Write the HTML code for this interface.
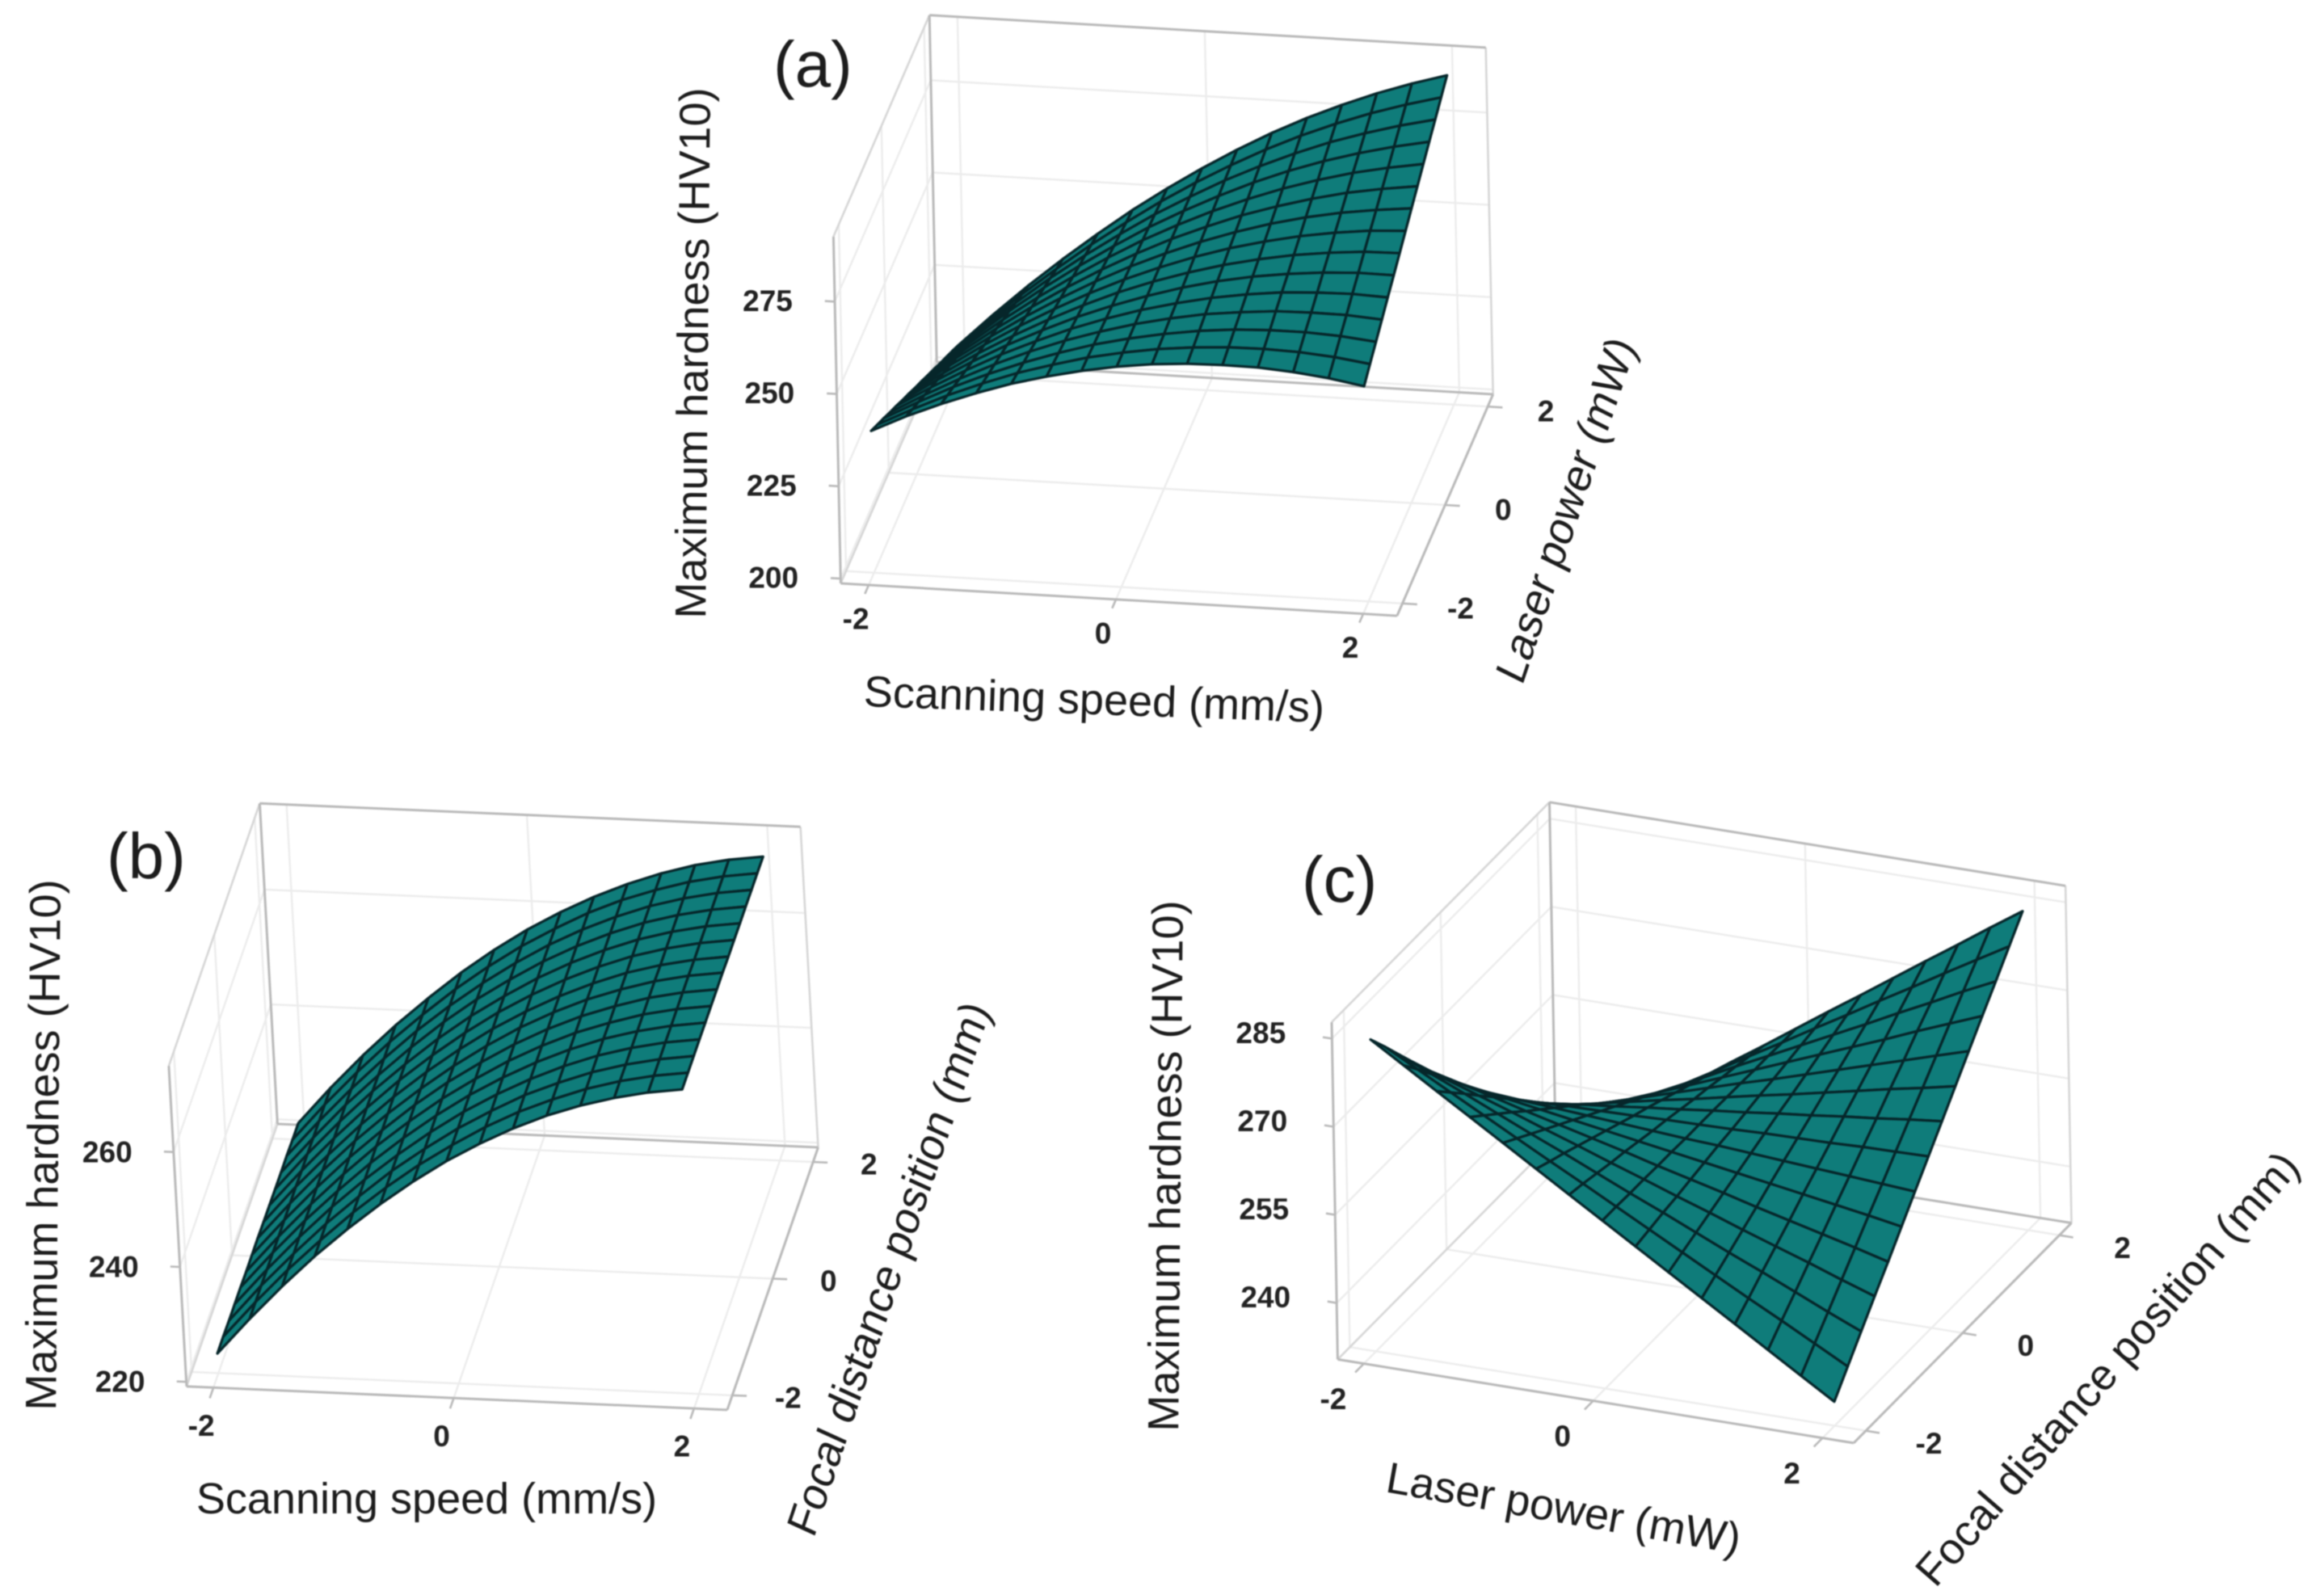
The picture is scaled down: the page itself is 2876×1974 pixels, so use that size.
<!DOCTYPE html>
<html lang="en">
<head>
<meta charset="utf-8">
<title>Maximum hardness response surfaces</title>
<style>
html,body{margin:0;padding:0;background:#fff;}
#figure{display:block;width:2876px;height:1974px;filter:blur(0.7px);}
text{font-family:"Liberation Sans",sans-serif;fill:#1c1c1c;}
.title{font-size:54px;text-anchor:middle;dominant-baseline:central;}
.tag{font-size:80px;}
.tick-label{font-size:37px;font-weight:bold;text-anchor:middle;dominant-baseline:central;fill:#222;}
.grid{stroke:#ececec;stroke-width:2.4;fill:none;}
.edge{stroke:#b9b9b9;stroke-width:3;fill:none;}
.edge-light{stroke:#d6d6d6;stroke-width:2.6;fill:none;}
.tick{stroke:#b9b9b9;stroke-width:2.6;fill:none;}
.cell{fill:#0f7c7a;stroke:#06262a;stroke-width:3.2;stroke-linejoin:round;}
</style>
</head>
<body>
<svg id="figure" xmlns="http://www.w3.org/2000/svg" width="2876" height="1974" viewBox="0 0 2876 1974">
  <rect x="0" y="0" width="2876" height="1974" fill="#ffffff"/>

  <g id="panel-a"></g>
  <g id="panel-b"></g>
  <g id="panel-c"></g>

  <text class="tag" x="957" y="107">(a)</text>
  <text class="title" transform="translate(858,437) rotate(-89.5)">Maximum hardness (HV10)</text>
  <text class="title" transform="translate(1354,866) rotate(2)">Scanning speed (mm/s)</text>
  <text class="title" transform="translate(1938,631) rotate(-71.5) skewX(-8)">Laser power (mW)</text>

  <text class="tag" x="132" y="1087">(b)</text>
  <text class="title" transform="translate(54,1417) rotate(-89.5)">Maximum hardness (HV10)</text>
  <text class="title" transform="translate(528,1855)">Scanning speed (mm/s)</text>
  <text class="title" transform="translate(1100,1570) rotate(-71.5) skewX(-6)">Focal distance position (mm)</text>

  <text class="tag" x="1611" y="1116">(c)</text>
  <text class="title" transform="translate(1443,1443) rotate(-89.5)">Maximum hardness (HV10)</text>
  <text class="title" transform="translate(1935,1867) rotate(10)">Laser power (mW)</text>
  <text class="title" transform="translate(2608,1694) rotate(-49)">Focal distance position (mm)</text>
</svg>

<script>
// Coded factor levels of the response-surface mesh (both horizontal factors).
const codedLevels = [-2,-1.714,-1.429,-1.143,-0.857,-0.571,-0.286,0,0.286,0.571,0.857,1.143,1.429,1.714,2];

// Axis tick values.
const xTickValues = [-2,0,2];
const yTickValues = [-2,0,2];
const zTicksA = [200,225,250,275];
const zTicksB = [220,240,260];
const zTicksC = [240,255,270,285];

// Hardness values: one row per first-factor level, one entry per second-factor level.
const hardnessA = [
[237.1,235.0,232.9,230.7,228.6,226.4,224.3,222.1,220.0,217.8,215.7,213.5,211.4,209.3,207.1],
[241.6,239.7,237.9,236.0,234.2,232.4,230.5,228.7,226.9,225.0,223.2,221.4,219.5,217.7,215.9],
[245.5,244.0,242.5,240.9,239.4,237.9,236.4,234.9,233.3,231.8,230.3,228.8,227.2,225.7,224.2],
[249.0,247.8,246.6,245.4,244.2,243.0,241.7,240.5,239.3,238.1,236.9,235.7,234.5,233.2,232.0],
[252.1,251.2,250.2,249.4,248.4,247.5,246.6,245.7,244.8,243.9,243.0,242.1,241.2,240.3,239.4],
[254.6,254.0,253.4,252.9,252.3,251.7,251.1,250.5,249.9,249.3,248.7,248.1,247.5,246.9,246.4],
[256.7,256.5,256.2,255.9,255.6,255.3,255.1,254.8,254.5,254.2,254.0,253.7,253.4,253.1,252.8],
[258.4,258.4,258.4,258.5,258.5,258.5,258.6,258.6,258.6,258.7,258.7,258.7,258.7,258.8,258.8],
[259.6,259.9,260.2,260.6,260.9,261.3,261.6,262.0,262.3,262.6,263.0,263.3,263.7,264.0,264.4],
[260.3,260.9,261.6,262.3,262.9,263.6,264.2,264.9,265.5,266.2,266.8,267.5,268.1,268.8,269.5],
[260.5,261.5,262.5,263.4,264.4,265.4,266.3,267.3,268.3,269.2,270.2,271.2,272.1,273.1,274.1],
[260.4,261.6,262.9,264.2,265.5,266.7,268.0,269.3,270.6,271.8,273.1,274.4,275.7,276.9,278.2],
[259.7,261.3,262.9,264.4,266.0,267.6,269.2,270.8,272.4,274.0,275.6,277.1,278.7,280.3,281.9],
[258.6,260.5,262.4,264.3,266.2,268.1,270.0,271.9,273.7,275.6,277.5,279.4,281.3,283.2,285.1],
[257.0,259.2,261.4,263.6,265.8,268.0,270.2,272.4,274.7,276.9,279.1,281.3,283.5,285.7,287.9]
];

const hardnessB = [
[222.6,222.6,222.5,222.5,222.5,222.4,222.4,222.4,222.3,222.3,222.2,222.2,222.2,222.1,222.1],
[228.9,228.9,228.9,228.8,228.8,228.7,228.7,228.7,228.7,228.6,228.6,228.5,228.5,228.5,228.5],
[234.8,234.8,234.7,234.7,234.7,234.6,234.6,234.6,234.5,234.5,234.5,234.5,234.4,234.4,234.4],
[240.3,240.2,240.2,240.2,240.1,240.1,240.1,240.1,240.0,240.0,240.0,239.9,239.9,239.9,239.9],
[245.3,245.3,245.2,245.2,245.2,245.2,245.1,245.1,245.1,245.1,245.0,245.0,245.0,244.9,244.9],
[249.9,249.9,249.9,249.8,249.8,249.8,249.8,249.7,249.7,249.7,249.7,249.7,249.6,249.6,249.6],
[254.1,254.1,254.0,254.0,254.0,254.0,254.0,253.9,253.9,253.9,253.9,253.9,253.8,253.8,253.8],
[257.9,257.8,257.8,257.8,257.8,257.7,257.7,257.7,257.7,257.7,257.6,257.6,257.6,257.6,257.6],
[261.2,261.2,261.1,261.1,261.1,261.1,261.1,261.1,261.0,261.0,261.0,261.0,261.0,260.9,260.9],
[264.1,264.1,264.1,264.0,264.0,264.0,264.0,264.0,263.9,263.9,263.9,263.9,263.9,263.9,263.8],
[266.6,266.5,266.5,266.5,266.5,266.5,266.5,266.5,266.4,266.4,266.4,266.4,266.4,266.4,266.3],
[268.6,268.6,268.6,268.6,268.6,268.5,268.5,268.5,268.5,268.5,268.5,268.5,268.5,268.4,268.4],
[270.2,270.2,270.2,270.2,270.2,270.2,270.2,270.2,270.1,270.1,270.1,270.1,270.1,270.1,270.1],
[271.4,271.4,271.4,271.4,271.4,271.4,271.4,271.4,271.3,271.3,271.3,271.3,271.3,271.3,271.3],
[272.2,272.2,272.2,272.2,272.2,272.2,272.2,272.2,272.1,272.1,272.1,272.1,272.1,272.1,272.1]
];

const hardnessC = [
[283.5,279.9,276.2,272.5,268.8,265.1,261.5,257.8,254.1,250.4,246.8,243.1,239.4,235.7,232.0],
[280.0,276.9,273.7,270.5,267.4,264.2,261.1,257.9,254.7,251.6,248.4,245.3,242.1,238.9,235.8],
[276.5,273.9,271.3,268.6,266.0,263.3,260.7,258.0,255.4,252.8,250.1,247.5,244.8,242.2,239.5],
[273.0,270.9,268.8,266.7,264.5,262.4,260.3,258.2,256.1,253.9,251.8,249.7,247.6,245.4,243.3],
[269.5,267.9,266.3,264.7,263.1,261.5,259.9,258.3,256.7,255.1,253.5,251.9,250.3,248.7,247.1],
[266.0,264.9,263.9,262.8,261.7,260.6,259.5,258.4,257.4,256.3,255.2,254.1,253.0,251.9,250.9],
[262.5,262.0,261.4,260.8,260.3,259.7,259.1,258.6,258.0,257.4,256.9,256.3,255.8,255.2,254.6],
[259.0,259.0,258.9,258.9,258.8,258.8,258.7,258.7,258.7,258.6,258.6,258.5,258.5,258.4,258.4],
[255.5,256.0,256.5,256.9,257.4,257.9,258.4,258.8,259.3,259.8,260.2,260.7,261.2,261.7,262.2],
[252.0,253.0,254.0,255.0,256.0,257.0,258.0,259.0,260.0,260.9,261.9,262.9,263.9,264.9,265.9],
[248.5,250.0,251.5,253.0,254.5,256.1,257.6,259.1,260.6,262.1,263.6,265.1,266.6,268.2,269.7],
[245.0,247.0,249.1,251.1,253.1,255.2,257.2,259.2,261.3,263.3,265.3,267.3,269.4,271.4,273.5],
[241.5,244.1,246.6,249.2,251.7,254.3,256.8,259.4,261.9,264.5,267.0,269.6,272.1,274.7,277.2],
[238.0,241.1,244.1,247.2,250.3,253.4,256.4,259.5,262.6,265.6,268.7,271.8,274.9,277.9,281.0],
[234.5,238.1,241.7,245.3,248.8,252.4,256.0,259.6,263.2,266.8,270.4,274.0,277.5,281.1,284.7]
];

// Half-width of the coded axes and the camera geometry of each panel.
const AXIS_HALF = 2.25;
const NS = 'http://www.w3.org/2000/svg';

const viewA = {origin:[1440.5,604.8], ex:[153,8.9], ey:[26.4,-60.9], ez:[-0.096,-4.57], zLo:198.7, zHi:292.6, shift:0.023,
               xLabel:[-16,42], yLabel:[72,6], zLabel:[-83,-1]};
const viewB = {origin:[617.7,1567.8], ex:[148.7,6.44], ey:[25,-72.2], ez:[-0.394,-7.11], zLo:219.2, zHi:275, shift:0.027,
               xLabel:[-15,47], yLabel:[69,3], zLabel:[-82,0]};
const viewC = {origin:[2106.5,1597.5], ex:[141.9,23], ey:[59.9,-60.5], ez:[-0.13,-7.27], zLo:230.4, zHi:287.8, shift:0.021,
               xLabel:[-38,44], yLabel:[78,16], zLabel:[-88,-7]};

// Axis function: data coordinates to screen coordinates.
function makeProjection(view) {
  return function (x, y, z) {
    const dz = z - view.zLo;
    return [
      view.origin[0] + x * view.ex[0] + y * view.ey[0] + dz * view.ez[0],
      view.origin[1] + x * view.ex[1] + y * view.ey[1] + dz * view.ez[1]
    ];
  };
}

function drawSegment(parent, name, cls, a, b) {
  const el = document.createElementNS(NS, 'line');
  
  
  el.setAttribute('class', cls);
  el.setAttribute('x1', a[0].toFixed(1));
  el.setAttribute('y1', a[1].toFixed(1));
  el.setAttribute('x2', b[0].toFixed(1));
  el.setAttribute('y2', b[1].toFixed(1));
  parent.appendChild(el);
}

function drawTickLabel(parent, name, text, at, offset) {
  const el = document.createElementNS(NS, 'text');
  
  
  el.setAttribute('class', 'tick-label');
  el.setAttribute('x', (at[0] + offset[0]).toFixed(1));
  el.setAttribute('y', (at[1] + offset[1]).toFixed(1));
  el.textContent = text;
  parent.appendChild(el);
}

function drawPanel(groupId, view, zTicks, grid, xName, yName) {
  const group = document.getElementById(groupId);
  const project = makeProjection(view);
  const xLo = -AXIS_HALF + view.shift, xHi = AXIS_HALF + view.shift;
  const yLo = -AXIS_HALF, yHi = AXIS_HALF;
  const zLo = view.zLo, zHi = view.zHi;

  // Floor and wall grid lines.
  xTickValues.forEach(function (x) {
    drawSegment(group, 'floor-gridline-' + xName, 'grid', project(x, yLo, zLo), project(x, yHi, zLo));
    drawSegment(group, 'back-wall-gridline-' + xName, 'grid', project(x, yHi, zLo), project(x, yHi, zHi));
  });
  yTickValues.forEach(function (y) {
    drawSegment(group, 'floor-gridline-' + yName, 'grid', project(xLo, y, zLo), project(xHi, y, zLo));
    drawSegment(group, 'side-wall-gridline-' + yName, 'grid', project(xLo, y, zLo), project(xLo, y, zHi));
  });
  zTicks.forEach(function (z) {
    drawSegment(group, 'back-wall-gridline-hardness', 'grid', project(xLo, yHi, z), project(xHi, yHi, z));
    drawSegment(group, 'side-wall-gridline-hardness', 'grid', project(xLo, yLo, z), project(xLo, yHi, z));
  });

  // Bounding box edges.
  drawSegment(group, 'box-edge-side-top', 'edge-light', project(xLo, yLo, zHi), project(xLo, yHi, zHi));
  drawSegment(group, 'box-edge-side-bottom', 'edge-light', project(xLo, yLo, zLo), project(xLo, yHi, zLo));
  drawSegment(group, 'box-edge-back-right', 'edge-light', project(xHi, yHi, zLo), project(xHi, yHi, zHi));
  drawSegment(group, 'box-edge-front-left', 'edge', project(xLo, yLo, zLo), project(xLo, yLo, zHi));
  drawSegment(group, 'box-edge-back-left', 'edge', project(xLo, yHi, zLo), project(xLo, yHi, zHi));
  drawSegment(group, 'box-edge-back-top', 'edge', project(xLo, yHi, zHi), project(xHi, yHi, zHi));
  drawSegment(group, 'box-edge-back-bottom', 'edge', project(xLo, yHi, zLo), project(xHi, yHi, zLo));
  drawSegment(group, 'box-edge-front-bottom', 'edge', project(xLo, yLo, zLo), project(xHi, yLo, zLo));
  drawSegment(group, 'box-edge-right-bottom', 'edge', project(xHi, yLo, zLo), project(xHi, yHi, zLo));

  // Surface cells, painted back to front.
  const surface = document.createElementNS(NS, 'g');
  
  
  group.appendChild(surface);
  for (let j = codedLevels.length - 2; j >= 0; j--) {
    for (let i = 0; i < codedLevels.length - 1; i++) {
      const corners = [
        project(codedLevels[i],   codedLevels[j],   grid[i][j]),
        project(codedLevels[i+1], codedLevels[j],   grid[i+1][j]),
        project(codedLevels[i+1], codedLevels[j+1], grid[i+1][j+1]),
        project(codedLevels[i],   codedLevels[j+1], grid[i][j+1])
      ];
      const cell = document.createElementNS(NS, 'polygon');
      
      
      cell.setAttribute('class', 'cell');
      cell.setAttribute('points', corners.map(function (p) { return p[0].toFixed(1) + ',' + p[1].toFixed(1); }).join(' '));
      surface.appendChild(cell);
    }
  }

  // Ticks and tick labels.
  xTickValues.forEach(function (x) {
    const a = project(x, yLo, zLo);
    drawSegment(group, xName + '-tick', 'tick', a, [a[0] - view.ey[0] * 0.18, a[1] - view.ey[1] * 0.18]);
    drawTickLabel(group, xName + '-tick-label', String(x), a, view.xLabel);
  });
  yTickValues.forEach(function (y) {
    const a = project(xHi, y, zLo);
    drawSegment(group, yName + '-tick', 'tick', a, [a[0] + view.ex[0] * 0.12, a[1] + view.ex[1] * 0.12]);
    drawTickLabel(group, yName + '-tick-label', String(y), a, view.yLabel);
  });
  zTicks.forEach(function (z) {
    const a = project(xLo, yLo, z);
    drawSegment(group, 'hardness-tick', 'tick', a, [a[0] - view.ex[0] * 0.08, a[1] - view.ex[1] * 0.08]);
    drawTickLabel(group, 'hardness-tick-label', String(z), a, view.zLabel);
  });
}

drawPanel('panel-a', viewA, zTicksA, hardnessA, 'scanning-speed', 'laser-power');
drawPanel('panel-b', viewB, zTicksB, hardnessB, 'scanning-speed', 'focal-distance');
drawPanel('panel-c', viewC, zTicksC, hardnessC, 'laser-power', 'focal-distance');
</script>
</body>
</html>
